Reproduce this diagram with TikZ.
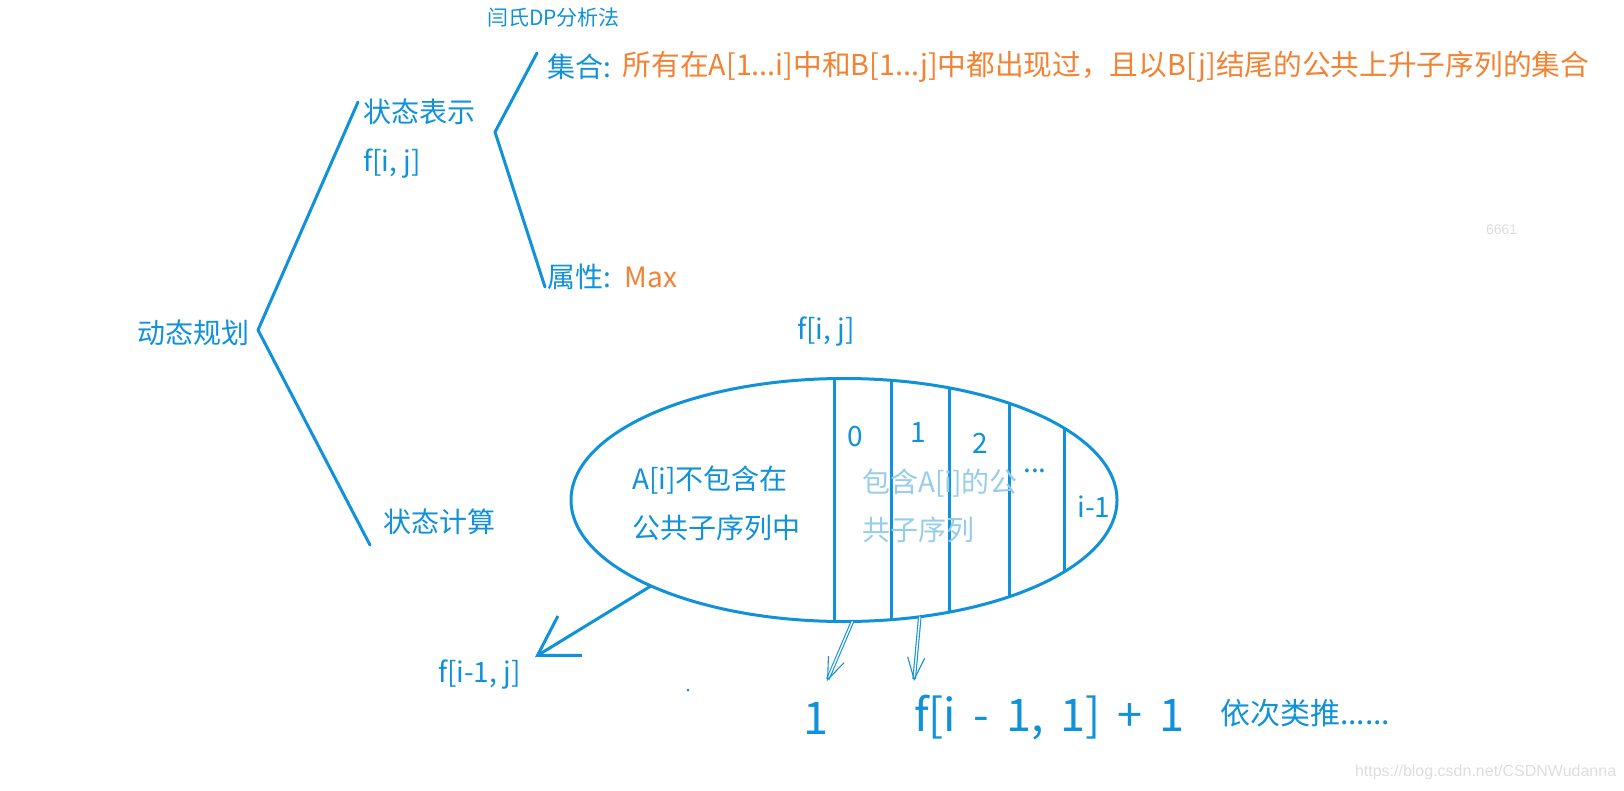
\documentclass[tikz,border=0pt]{standalone}
\usepackage{fontspec}
\setmainfont{Noto Sans CJK SC}
\newfontfamily\wmfont{Liberation Sans}
\usetikzlibrary{positioning, arrows.meta, shapes.geometric}
\definecolor{penblue}{RGB}{16,146,218}
\definecolor{penorange}{RGB}{243,130,50}
\definecolor{paleblue}{RGB}{150,205,232}
\definecolor{wmgray}{RGB}{222,222,222}
\newcommand\widegaps{\spaceskip=0.38em\relax}

\begin{document}
\begin{tikzpicture}[x=1pt, y=-1pt, inner sep=0pt, outer sep=0pt,
    lbl/.style={text=penblue, font=\fontsize{28}{34}\selectfont, anchor=west},
    hint/.style={lbl, text=penorange},
    pale/.style={lbl, text=paleblue},
    big/.style={text=penblue, font=\fontsize{45}{50}\selectfont},
    stroke/.style={draw=penblue, line width=3pt, line join=round, line cap=round},
    bigarrow/.style={stroke, -{Straight Barb[length=38pt, width=46pt, line width=3pt]}},
    tinyarrow/.style={draw=penblue, line width=1.1pt, double=white, double distance=1.4pt,
        -{Straight Barb[length=22pt, width=17pt]}},
    wm/.style={text=wmgray, font=\wmfont\fontsize{16}{18}\selectfont, anchor=west}]
    \useasboundingbox[fill=white] (0,0) rectangle (1624,790);

    \node[text=penblue, font=\fontsize{21}{24}\selectfont, anchor=west] (method) at (487,18) {闫氏DP分析法};
    \node[lbl] (dp) at (137,333) {动态规划};
    \node[lbl] (repr) at (363,112) {状态表示};
    \node[lbl, below=24pt of repr.south west, anchor=north west] (reprf) {f[i, j]};
    \node[lbl] (calc) at (383,522) {状态计算};
    \node[lbl] (set) at (547,67) {集合:};
    \node[hint, font=\fontsize{28.7}{34}\selectfont, right=12pt of set] (setdesc) {所有在A[1...i]中和B[1...j]中都出现过，且以B[j]结尾的公共上升子序列的集合};
    \node[lbl] (prop) at (547,277) {属性:};
    \node[hint, right=14pt of prop] (propdesc) {Max};

    \coordinate (dpv) at (258,330);
    \coordinate (dptop) at (358,102);
    \coordinate (dpbot) at (370,545);
    \coordinate (rv) at (495,132);
    \coordinate (rtop) at (537,53);
    \coordinate (rbot) at (545,287);
    \draw[stroke] (dptop) -- (dpv) -- (dpbot);
    \draw[stroke] (rtop) -- (rv) -- (rbot);

    \node[lbl] (fij) at (797,332) {f[i, j]};
    \node[ellipse, stroke, minimum width=546pt, minimum height=243pt] (grp) at (844,500) {};
    \begin{scope}
        \clip (grp.center) ellipse [x radius=273pt, y radius=121.5pt];
        \foreach \cx in {834,891,949,1009,1064}
            \draw[stroke] (\cx,370) -- (\cx,630);
    \end{scope}
    \node[lbl] (notin1) at (632,480) {A[i]不包含在};
    \node[lbl] (notin2) at (632,528) {公共子序列中};
    \node[pale] (in1) at (862,483) {包含A[i]的公};
    \node[pale] (in2) at (862,530) {共子序列};
    \node[lbl, anchor=center] (k0) at (855,437) {0};
    \node[lbl, anchor=center] (k1) at (918,433) {1};
    \node[lbl, anchor=center] (k2) at (980,443) {2};
    \node[lbl, anchor=base] (kdots) at (1035,472) {...};
    \node[lbl, anchor=center] (klast) at (1094,507) {i-1};

    \node[lbl] (fim1) at (438,675) {f[i-1, j]};
    \coordinate (fim1tip) at (535,657);
    \draw[bigarrow] (grp.204) -- (fim1tip);

    \node[big, anchor=center] (one) at (816,718) {1};
    \node[big, anchor=west] (rec) at (914,718) {\widegaps f[i - 1, 1] + 1};
    \node[text=penblue, font=\fontsize{30}{34}\selectfont, anchor=west] (etc) at (1220,713) {依次类推......};
    \coordinate (onetip) at (827,681);
    \coordinate (rectip) at (914,681);
    \draw[tinyarrow] (grp.274) -- (onetip);
    \draw[tinyarrow] (grp.303) -- (rectip);
    \fill[penblue] (688,690) circle (1.5pt);

    \node[wm, font=\wmfont\fontsize{14}{16}\selectfont] (wm1) at (1486,230) {6661};
    \node[wm] (wm2) at (1355,772) {https://blog.csdn.net/CSDNWudanna};
\end{tikzpicture}
\end{document}
